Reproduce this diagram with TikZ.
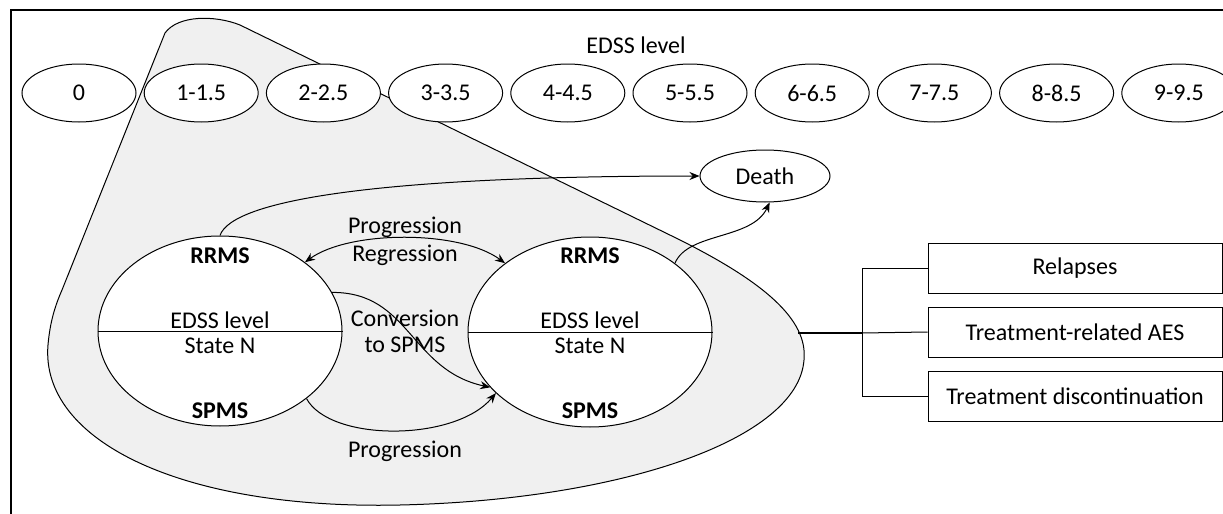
\documentclass[tikz,border=0pt]{standalone}
\usepackage{fontspec}
\setmainfont{Carlito}
\usetikzlibrary{arrows.meta,positioning,shapes.geometric}

\begin{document}
\begin{tikzpicture}[x=0.5pt, y=-0.5pt, >={Stealth[length=5pt,width=4pt]},
  font=\fontsize{12}{14}\selectfont, line width=0.5pt,
  level/.style={draw, ellipse, fill=white, inner sep=0pt,
    minimum width=57pt, minimum height=29pt},
  state/.style={draw, ellipse, fill=white, inner sep=0pt,
    minimum width=122pt, minimum height=95pt},
  outcome/.style={draw, rectangle, fill=white, inner sep=0pt,
    minimum width=147pt, minimum height=25pt},
  blob/.style={draw, fill=gray!12}]
  \useasboundingbox (0,0) rectangle (1223,514);
  \draw[line width=1pt] (11,514) -- (11,10) -- (1223,10);

  % region of the model states
  \filldraw[blob] (62,290) -- (165,33) .. controls (178,15) and (215,15) .. (240,25)
    -- (676,238) .. controls (765,282) and (808,320) .. (804,360)
    .. controls (798,440) and (620,500) .. (400,505)
    .. controls (180,510) and (40,440) .. (48,345)
    .. controls (50,322) and (55,306) .. cycle;

  \node (title) at (636,45) {EDSS level};
  \foreach \i/\t in {0/0,1/1-1.5,2/2-2.5,3/3-3.5,4/4-4.5,5/5-5.5,6/6-6.5,7/7-7.5,8/8-8.5,9/9-9.5}
    \node[level] (l\i) at (79+122.2*\i,93) {\t};

  \node[level, minimum width=65pt, minimum height=26pt] (death) at (765,176) {Death};

  % two EDSS states
  \node[state] (cur) at (220,331) {};
  \node[state] (next) at (590,332) {};
  \draw (cur.west) -- (cur.east);
  \draw (next.west) -- (next.east);
  \foreach \s/\x in {cur/220,next/590} {
    \node[font=\fontsize{12}{14}\selectfont\bfseries] (\s-rr) at (\x,256) {RRMS};
    \node (\s-lv) at (\x,320) {EDSS level};
    \node (\s-n) at (\x,346) {State N};
    \node[font=\fontsize{12}{14}\selectfont\bfseries] (\s-sp) at (\x,411) {SPMS};
  }

  % transitions
  \draw[->] (cur.north) .. controls (232,200) and (380,176) .. (death.west);
  \draw[->] (next.39) .. controls (688,232) and (752,240) .. (death.280);
  \draw[<->] (cur.39) .. controls (350,230) and (460,230) .. (next.141);
  \node (prog) at (405,227) {Progression};
  \node (regr) at (405,255) {Regression};
  \draw[->] (cur.19) .. controls (410,292) and (410,370) .. (next.209);
  \node (conv) at (405,318) {Conversion};
  \node (tospms) at (405,345) {to SPMS};
  \draw[->] (cur.-38) .. controls (330,442) and (455,442) .. (next.213);
  \node (prog2) at (405,451) {Progression};

  % events
  \node[outcome] (relapse) at (1075,268) {Relapses};
  \node[outcome] (aes) at (1075,332) {Treatment-related AES};
  \node[outcome] (disc) at (1075,396) {Treatment discontinuation};
  \coordinate (blobR) at (798,333);
  \coordinate (fork) at (862,333);
  \draw[line width=1pt] (blobR) -- (fork);
  \draw (fork) |- (relapse.west);
  \draw (fork) -- (aes.west);
  \draw (fork) |- (disc.west);
\end{tikzpicture}
\end{document}
